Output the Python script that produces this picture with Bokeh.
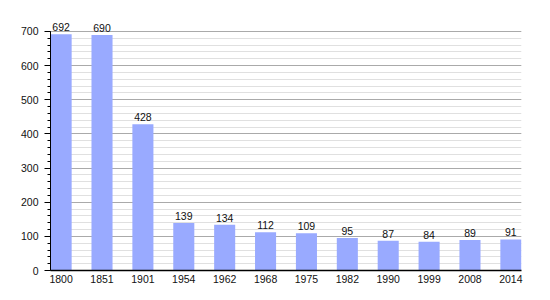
from bokeh.plotting import figure
from bokeh.models import Range1d, FixedTicker, ColumnDataSource, LabelSet
from bokeh.core.properties import value
from bokeh.embed import file_html
from bokeh.resources import INLINE

years = ["1800", "1851", "1901", "1954", "1962", "1968", "1975", "1982", "1990", "1999", "2008", "2014"]
population = [692, 690, 428, 139, 134, 112, 109, 95, 87, 84, 89, 91]

xs = list(range(len(years)))
src = ColumnDataSource(dict(x=xs, y=population, lbl=[str(v) for v in population]))

p = figure(width=550, height=300, output_backend="svg", toolbar_location=None,
           x_range=Range1d(-0.26, 11.26), y_range=Range1d(0, 761.5),
           min_border_left=50, min_border_right=29, min_border_top=10, min_border_bottom=30)
p.outline_line_color = None
p.background_fill_color = "white"

p.vbar(x="x", top="y", width=0.515, source=src, fill_color="#99AAFF", line_color=None)

labels = LabelSet(x="x", y="y", text="lbl", source=src, text_align="center", text_baseline="bottom",
                  y_offset=3, text_font=value("Liberation Sans"), text_font_size=value("10.5px"),
                  text_color="#111111")
p.add_layout(labels)

p.xgrid.visible = False
p.ygrid.ticker = FixedTicker(ticks=list(range(0, 701, 100)), minor_ticks=list(range(0, 701, 20)))
p.ygrid.grid_line_color = "#aaaaaa"
p.ygrid.grid_line_width = 1
p.ygrid.minor_grid_line_color = "#e0e0e0"
p.ygrid.bounds = (0, 700)

ya = p.yaxis[0]
ya.ticker = FixedTicker(ticks=list(range(0, 701, 100)), minor_ticks=list(range(0, 701, 20)))
ya.bounds = (0, 700)
ya.axis_line_color = "black"
ya.major_tick_out = 6
ya.major_tick_in = 0
ya.minor_tick_out = 3
ya.minor_tick_in = 0
ya.major_label_text_font = "Liberation Sans"
ya.major_label_text_font_size = "10.5px"
ya.major_label_text_color = "#111111"
ya.major_label_standoff = 6

xa = p.xaxis[0]
xa.ticker = FixedTicker(ticks=xs)
xa.major_label_overrides = {i: y for i, y in zip(xs, years)}
xa.major_tick_out = 0
xa.major_tick_in = 0
xa.minor_tick_out = 0
xa.minor_tick_in = 0
xa.axis_line_color = "black"
xa.axis_line_width = 1.5
xa.major_label_text_font = "Liberation Sans"
xa.major_label_text_font_size = "10.5px"
xa.major_label_text_color = "#111111"
xa.major_label_standoff = 4

open("out.html", "w").write(file_html(p, INLINE))
